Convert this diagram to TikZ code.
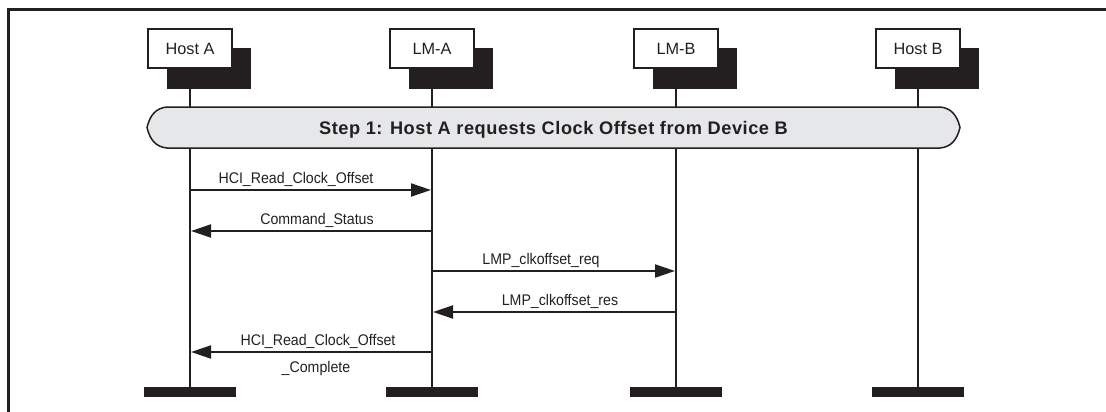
\documentclass[tikz,border=0pt]{standalone}
\usepackage{fontspec}
\setmainfont{Liberation Sans}
\newfontfamily\msgfont{Liberation Sans}[FakeStretch=0.92]
\newfontfamily\stepfont{Liberation Sans}[LetterSpace=3]
\usepackage{xcolor}
\usetikzlibrary{arrows.meta}
\definecolor{ink}{HTML}{231F20}
\definecolor{bandgray}{HTML}{E6E7E8}

\begin{document}
\begin{tikzpicture}[x=1pt, y=-1pt,
    lifebox/.style={draw=ink, fill=white, line width=1.2pt, minimum width=84pt, minimum height=39pt, inner sep=0pt, text=ink, font=\fontsize{16.3}{19}\selectfont},
    lifeshadow/.style={fill=ink, minimum width=84pt, minimum height=41pt, inner sep=0pt},
    lifeend/.style={fill=ink, minimum width=92pt, minimum height=10pt, inner sep=0pt},
    lifeline/.style={draw=ink, line width=2pt},
    band/.style={draw=ink, fill=bandgray, line width=1.5pt},
    steptext/.style={anchor=base, inner sep=0pt, text=ink, font=\stepfont\bfseries\fontsize{18.2}{21}\selectfont},
    msg/.style={draw=ink, line width=2pt, shorten >=1pt, -{Triangle[length=20pt, width=13pt]}},
    msglabel/.style={anchor=base, inner sep=0pt, text=ink, font=\msgfont\fontsize{15.4}{18}\selectfont}]
    \useasboundingbox (0,0) rectangle (1106,412);
    \draw[ink, line width=3pt] (8.5,412) -- (8.5,9.5) -- (1106,9.5);
    \foreach \x/\name/\txt in {190/ha/Host A, 432/lma/LM-A, 676/lmb/LM-B, 918/hb/Host B} {
        \node[lifeshadow] (\name s) at (\x+19,68.5) {};
        \node[lifebox] (\name) at (\x,48.5) {\txt};
        \node[lifeend] (\name e) at (\x,392) {};
        \draw[lifeline] (\name s.south -| \name) -- (\name e.north);
    }
    \draw[band] (167,107) -- (940,107) .. controls (951,108) and (957,115) .. (960,127.5) .. controls (957,140) and (951,147) .. (940,148) -- (167,148) .. controls (156,147) and (150,140) .. (147,127.5) .. controls (150,115) and (156,108) .. cycle;
    \node[steptext] (step) at (553.5,134) {Step 1: Host A requests Clock Offset from Device B};
    \coordinate (r1) at (0,190);
    \coordinate (r2) at (0,231);
    \coordinate (r3) at (0,271);
    \coordinate (r4) at (0,312);
    \coordinate (r5) at (0,352);
    \draw[msg] (ha |- r1) -- (lma |- r1);
    \node[msglabel] (m1) at (296,183) {HCI\_Read\_Clock\_Offset};
    \draw[msg] (lma |- r2) -- (ha |- r2);
    \node[msglabel] (m2) at (317,224.5) {Command\_Status};
    \draw[msg] (lma |- r3) -- (lmb |- r3);
    \node[msglabel] (m3) at (541,264.5) {LMP\_clkoffset\_req};
    \draw[msg] (lmb |- r4) -- (lma |- r4);
    \node[msglabel] (m4) at (560,305.5) {LMP\_clkoffset\_res};
    \draw[msg] (lma |- r5) -- (ha |- r5);
    \node[msglabel] (m5) at (318,345.5) {HCI\_Read\_Clock\_Offset};
    \node[msglabel] (m6) at (316,372) {\_Complete};
\end{tikzpicture}
\end{document}
